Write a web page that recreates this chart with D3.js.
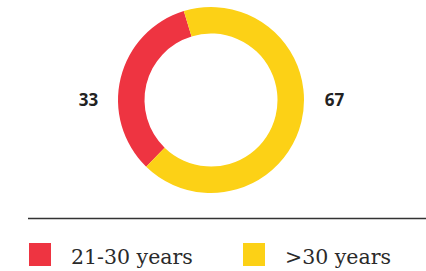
<!DOCTYPE html>
<html>
<head>
<meta charset="utf-8">
<script src="https://cdn.jsdelivr.net/npm/d3@7"></script>
<style>
  body { margin: 0; background: #fff; }
</style>
</head>
<body>
<div id="chart"></div>
<script>
var svgWidth = 426;
var svgHeight = 271;

var categories = ["21-30 years", ">30 years"];
var values = [33, 67];
var colors = ["#EE3441", "#FCD116"];

var svg = d3.select("#chart")
  .append("svg")
  .attr("width", svgWidth)
  .attr("height", svgHeight);

var cx = 211, cy = 100;
var outerR = 93, innerR = 66.5;

var startDeg = -135.8;
var pie = d3.pie()
  .sort(null)
  .startAngle(startDeg * Math.PI / 180)
  .endAngle((startDeg + 360) * Math.PI / 180);

var arc = d3.arc()
  .innerRadius(innerR)
  .outerRadius(outerR);

var donut = svg.append("g")
  .attr("transform", `translate(${cx}, ${cy})`);

donut.selectAll("path")
  .data(pie(values))
  .enter()
  .append("path")
  .attr("d", arc)
  .attr("fill", (d, i) => colors[i]);

// value labels on either side
var labelX = [88.5, 334.5];
svg.selectAll(".valueLabel")
  .data(values)
  .enter()
  .append("text")
  .attr("class", "valueLabel")
  .attr("x", (d, i) => labelX[i])
  .attr("y", 106.3)
  .attr("text-anchor", "middle")
  .attr("font-family", "'Open Sans', sans-serif")
  .attr("font-weight", "bold")
  .attr("font-size", "17px")
  .attr("fill", "#222")
  .text(d => d);

// divider
svg.append("line")
  .attr("x1", 28).attr("x2", 426)
  .attr("y1", 218.5).attr("y2", 218.5)
  .attr("stroke", "#333")
  .attr("stroke-width", 1.3);

// legend
var legendX = [29, 243];
var legend = svg.selectAll(".legend")
  .data(categories)
  .enter()
  .append("g")
  .attr("class", "legend")
  .attr("transform", (d, i) => `translate(${legendX[i]}, 243)`);

legend.append("rect")
  .attr("width", 22)
  .attr("height", 23)
  .attr("fill", (d, i) => colors[i]);

legend.append("text")
  .attr("x", 42)
  .attr("y", 20.5)
  .attr("font-family", "'DejaVu Serif', serif")
  .attr("font-size", "20.5px")
  .attr("fill", "#2a2a2a")
  .text(d => d);
</script>
</body>
</html>
